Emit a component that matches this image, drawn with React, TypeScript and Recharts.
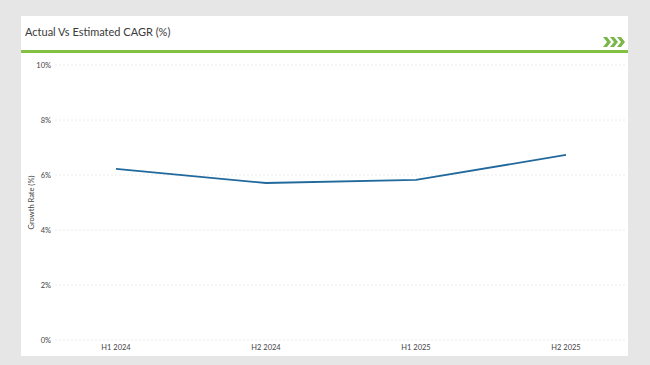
import { CartesianGrid, Label, Line, LineChart, XAxis, YAxis } from "recharts";

const periods = ["H1 2024", "H2 2024", "H1 2025", "H2 2025"];
const growthRate = [6.22, 5.71, 5.82, 6.73];
const yTicks = [0, 2, 4, 6, 8, 10];

const data = periods.map((period, i) => ({ period, rate: growthRate[i] }));

const font = "Lato, 'Open Sans', sans-serif";

// little ">>>" badge at the right end of the header
function Chevrons() {
  return (
    <svg width={22} height={10} style={{ position: "absolute", right: 3, top: 21 }}>
      {[0, 7, 14].map((x) => (
        <polygon
          key={x}
          points={`${x},0 ${x + 4},0 ${x + 8},5 ${x + 4},10 ${x},10 ${x + 4},5`}
          fill="#7ab648"
        />
      ))}
    </svg>
  );
}

export default function App() {
  return (
    <div
      style={{
        position: "absolute",
        left: 0,
        top: 0,
        width: 650,
        height: 365,
        background: "#e6e6e6",
        fontFamily: font,
      }}
    >
      <div
        style={{
          position: "absolute",
          left: 21,
          top: 16,
          width: 607,
          height: 340,
          background: "#ffffff",
        }}
      >
        <div
          style={{
            position: "absolute",
            left: 4,
            top: 9,
            fontSize: 11,
            color: "#3a3a3a",
          }}
        >
          Actual Vs Estimated CAGR (%)
        </div>
        <Chevrons />
        <div
          style={{
            position: "absolute",
            left: 0,
            top: 34,
            width: 607,
            height: 3,
            background: "#84c044",
          }}
        />
        <div style={{ position: "absolute", left: 0, top: 39 }}>
          <LineChart
            width={607}
            height={301}
            data={data}
            margin={{ top: 10, right: 3, bottom: 0, left: 0 }}
          >
            <CartesianGrid
              vertical={false}
              stroke="#ececec"
              strokeDasharray="2 2"
            />
            <XAxis
              dataKey="period"
              axisLine={false}
              tickLine={false}
              tickSize={0}
              tickMargin={5}
              height={16}
              padding={{ left: 61, right: 59 }}
              tick={{ fontSize: 7.5, fill: "#444444", fontFamily: font }}
            />
            <YAxis
              domain={[0, 10]}
              ticks={yTicks}
              tickFormatter={(v) => `${v}%`}
              axisLine={false}
              tickLine={false}
              tickSize={0}
              tickMargin={4}
              width={34}
              tick={{ fontSize: 7.5, fill: "#444444", fontFamily: font }}
            >
              <Label
                value="Growth Rate (%)"
                angle={-90}
                position="insideLeft"
                offset={10}
                style={{ textAnchor: "middle", fontSize: 7.5, fill: "#444444", fontFamily: font }}
              />
            </YAxis>
            <Line
              type="linear"
              dataKey="rate"
              stroke="#21699c"
              strokeWidth={1.8}
              dot={false}
              activeDot={false}
              isAnimationActive={false}
            />
          </LineChart>
        </div>
      </div>
    </div>
  );
}
